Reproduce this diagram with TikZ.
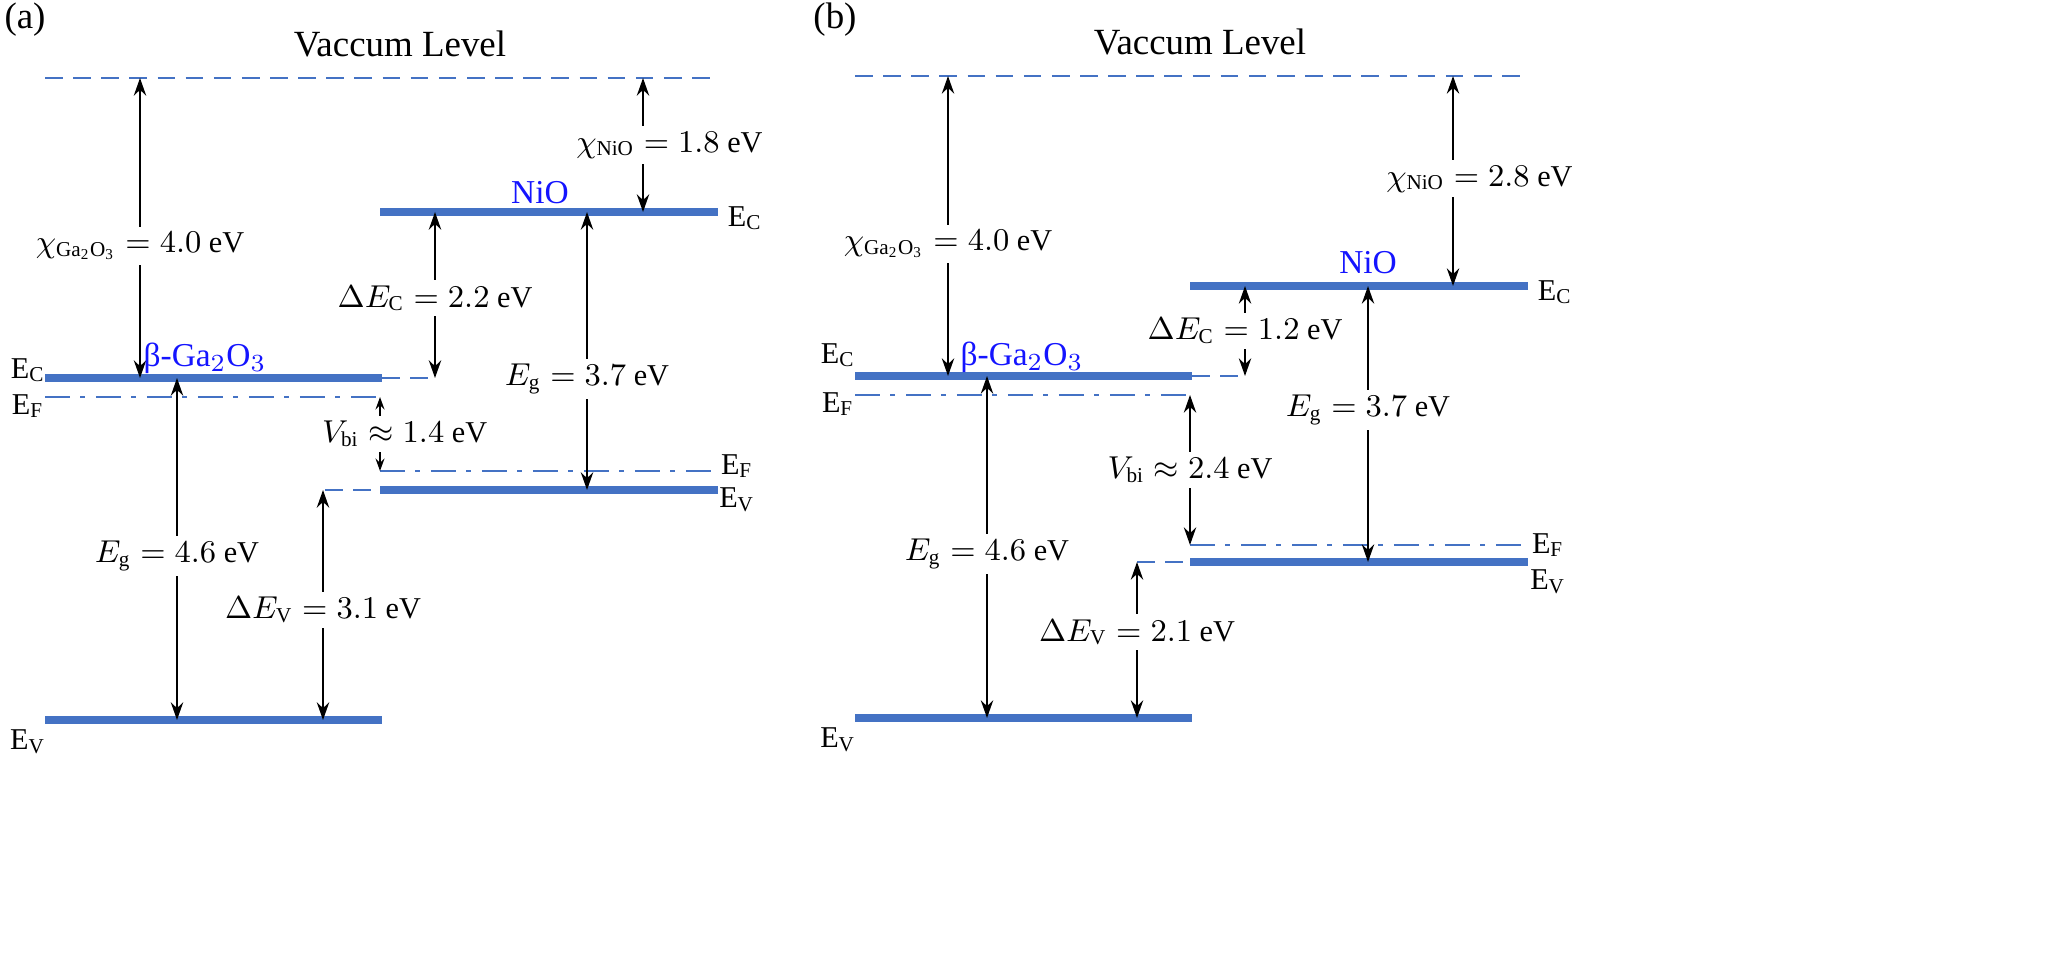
\documentclass[tikz,border=0pt]{standalone}
\usepackage{fontspec}
\setmainfont{Liberation Serif}
\usetikzlibrary{arrows.meta}
\definecolor{lvlblue}{RGB}{68,114,196}
\definecolor{txtblue}{RGB}{20,20,255}
\begin{document}
\begin{tikzpicture}[x=0.01cm,y=-0.01cm,>={Stealth[length=5pt,width=3.5pt]},font=\fontsize{8.6}{10}\selectfont]
  \tikzset{
    band/.style={lvlblue,line width=2.3pt},
    vac/.style={lvlblue,line width=0.8pt,dash pattern=on 5pt off 3pt},
    fermi/.style={lvlblue,line width=0.8pt,dash pattern=on 7pt off 3pt on 1.5pt off 3pt},
    gap/.style={<->,black,line width=0.6pt},
    val/.style={fill=white,inner sep=1.5pt},
    mat/.style={txtblue,font=\fontsize{9.5}{11}\selectfont},
    big/.style={font=\fontsize{10.5}{12}\selectfont}
  }
  \useasboundingbox (0,0) rectangle (2070,973);

  % panel (a)
  \node[big] (la) at (25,20) {(a)};
  \coordinate (vacL) at (45,78);  \coordinate (vacR) at (720,78);
  \draw[vac] (vacL)--(vacR);
  \node[big] (vactxt) at (400,44) {Vaccum Level};
  \coordinate (gcL) at (45,378);  \coordinate (gcR) at (382,378); \coordinate (gcD) at (435,378);
  \coordinate (gfL) at (45,397);  \coordinate (gfR) at (382,397);
  \coordinate (gvL) at (45,720);  \coordinate (gvR) at (382,720);
  \coordinate (ncL) at (380,212); \coordinate (ncR) at (718,212);
  \coordinate (nfL) at (380,471); \coordinate (nfR) at (718,471);
  \coordinate (nvD) at (325,490); \coordinate (nvL) at (380,490); \coordinate (nvR) at (718,490);
  \draw[band] (gcL)--(gcR);
  \draw[vac] (gcR)--(gcD);
  \draw[fermi] (gfL)--(gfR);
  \draw[band] (gvL)--(gvR);
  \draw[band] (ncL)--(ncR);
  \draw[fermi] (nfL)--(nfR);
  \draw[vac] (nvD)--(nvL);
  \draw[band] (nvL)--(nvR);
  \draw[gap] (140,78)--(140,378) node[val,pos=0.56] {$\chi_{\mathrm{Ga_2O_3}}=4.0$ eV};
  \draw[gap] (643,78)--(643,212) node[val,pos=0.5,xshift=7.5pt] {$\chi_{\mathrm{NiO}}=1.8$ eV};
  \draw[gap] (435,212)--(435,378) node[val,pos=0.52] {$\Delta E_{\mathrm{C}}=2.2$ eV};
  \draw[gap] (587,212)--(587,490) node[val,pos=0.6] {$E_{\mathrm{g}}=3.7$ eV};
  \draw[gap] (177,378)--(177,720) node[val,pos=0.52] {$E_{\mathrm{g}}=4.6$ eV};
  \draw[gap] (323,490)--(323,720) node[val,pos=0.52] {$\Delta E_{\mathrm{V}}=3.1$ eV};
  \draw[gap,>={Stealth[length=3.5pt,width=2.5pt]}] (380,397)--(380,471) node[val,midway,xshift=7pt] {$V_{\mathrm{bi}}\approx1.4$ eV};
  \node (ecA) at (28,370) {E$_\mathrm{C}$};
  \node (efA) at (28,406) {E$_\mathrm{F}$};
  \node (evA) at (28,742) {E$_\mathrm{V}$};
  \node (ecB) at (745,218) {E$_\mathrm{C}$};
  \node (efB) at (737,466) {E$_\mathrm{F}$};
  \node (evB) at (737,500) {E$_\mathrm{V}$};
  \node[mat] (gaA) at (205,358) {β-Ga$_2$O$_3$};
  \node[mat] (nioA) at (540,193) {NiO};

  % panel (b)
  \node[big] (lb) at (835,20) {(b)};
  \coordinate (vbL) at (855,76);  \coordinate (vbR) at (1530,76);
  \draw[vac] (vbL)--(vbR);
  \node[big] (vbtxt) at (1200,42) {Vaccum Level};
  \coordinate (hcL) at (855,376);  \coordinate (hcR) at (1192,376); \coordinate (hcD) at (1245,376);
  \coordinate (hfL) at (855,395);  \coordinate (hfR) at (1192,395);
  \coordinate (hvL) at (855,718);  \coordinate (hvR) at (1192,718);
  \coordinate (mcL) at (1190,286); \coordinate (mcR) at (1528,286);
  \coordinate (mfL) at (1190,545); \coordinate (mfR) at (1528,545);
  \coordinate (mvD) at (1137,562); \coordinate (mvL) at (1190,562); \coordinate (mvR) at (1528,562);
  \draw[band] (hcL)--(hcR);
  \draw[vac] (hcR)--(hcD);
  \draw[fermi] (hfL)--(hfR);
  \draw[band] (hvL)--(hvR);
  \draw[band] (mcL)--(mcR);
  \draw[fermi] (mfL)--(mfR);
  \draw[vac] (mvD)--(mvL);
  \draw[band] (mvL)--(mvR);
  \draw[gap] (948,76)--(948,376) node[val,pos=0.56] {$\chi_{\mathrm{Ga_2O_3}}=4.0$ eV};
  \draw[gap] (1453,76)--(1453,286) node[val,pos=0.49,xshift=7.5pt] {$\chi_{\mathrm{NiO}}=2.8$ eV};
  \draw[gap] (1245,286)--(1245,376) node[val,midway] {$\Delta E_{\mathrm{C}}=1.2$ eV};
  \draw[gap] (1368,286)--(1368,562) node[val,pos=0.45] {$E_{\mathrm{g}}=3.7$ eV};
  \draw[gap] (987,376)--(987,718) node[val,pos=0.52] {$E_{\mathrm{g}}=4.6$ eV};
  \draw[gap] (1137,562)--(1137,718) node[val,pos=0.45] {$\Delta E_{\mathrm{V}}=2.1$ eV};
  \draw[gap] (1190,395)--(1190,545) node[val,midway] {$V_{\mathrm{bi}}\approx2.4$ eV};
  \node (ecC) at (838,355) {E$_\mathrm{C}$};
  \node (efC) at (838,404) {E$_\mathrm{F}$};
  \node (evC) at (838,740) {E$_\mathrm{V}$};
  \node (ecD) at (1555,292) {E$_\mathrm{C}$};
  \node (efD) at (1548,545) {E$_\mathrm{F}$};
  \node (evD) at (1548,582) {E$_\mathrm{V}$};
  \node[mat] (gaB) at (1022,357) {β-Ga$_2$O$_3$};
  \node[mat] (nioB) at (1368,263) {NiO};
\end{tikzpicture}
\end{document}
